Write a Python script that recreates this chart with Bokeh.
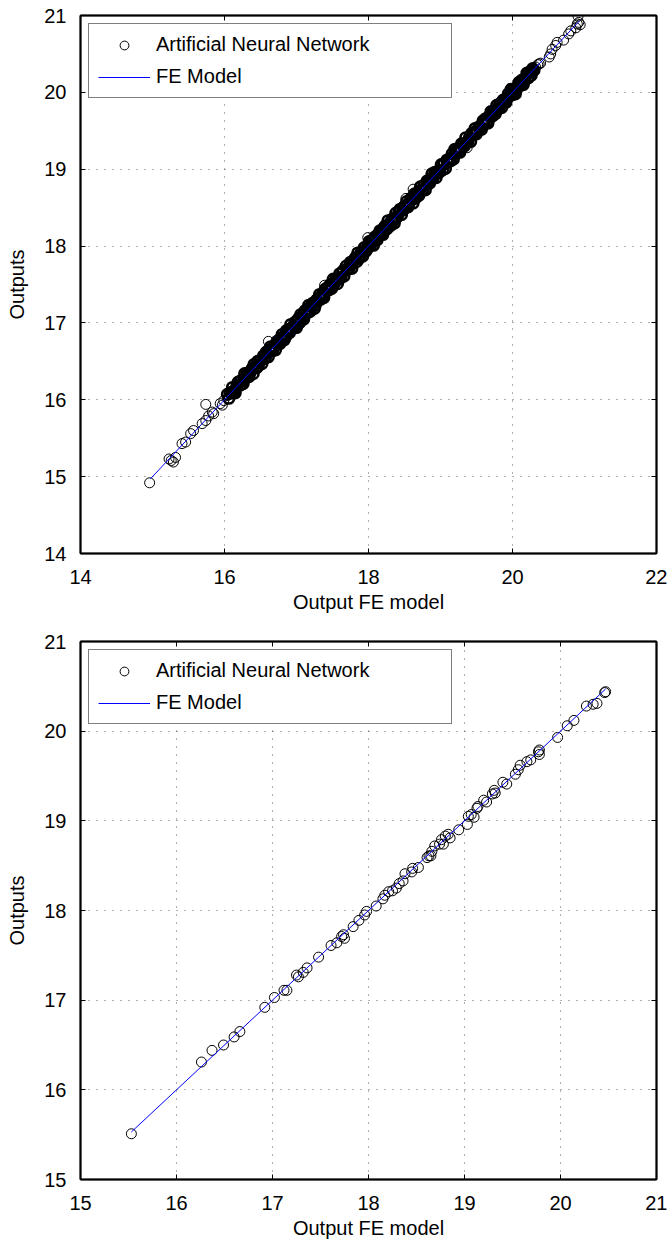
from bokeh.plotting import figure
from bokeh.models import Range1d, FixedTicker, LinearAxis, Legend, LegendItem
from bokeh.layouts import column
from bokeh.embed import file_html
from bokeh.resources import INLINE

# ---------------- data ----------------
top_x_limits = [14, 22]
top_y_limits = [14, 21]
top_x_ticks = [14, 16, 18, 20, 22]
top_y_ticks = [14, 15, 16, 17, 18, 19, 20, 21]

bottom_x_limits = [15, 21]
bottom_y_limits = [15, 21]
bottom_x_ticks = [15, 16, 17, 18, 19, 20, 21]
bottom_y_ticks = [15, 16, 17, 18, 19, 20, 21]

# top panel: FE model line
top_fe_x = [14.97, 20.93]
top_fe_y = [14.97, 20.93]

# top panel: sparse ANN outputs (tails and outliers)
top_ann_sparse_x = [14.96, 15.23, 15.26, 15.29, 15.32, 15.41, 15.46, 15.53, 15.57, 15.69,
                    15.74, 15.74, 15.78, 15.83, 15.85, 15.94, 15.99, 15.97,
                    16.61, 17.39, 17.99, 18.52, 18.62, 19.37,
                    20.32, 20.35, 20.37, 20.39, 20.51, 20.53, 20.55, 20.60, 20.62, 20.71,
                    20.78, 20.81, 20.88, 20.90, 20.92, 20.94, 20.91]
top_ann_sparse_y = [14.92, 15.23, 15.21, 15.19, 15.25, 15.43, 15.45, 15.56, 15.60, 15.69,
                    15.73, 15.94, 15.79, 15.84, 15.82, 15.95, 15.99, 15.93,
                    16.76, 17.49, 18.11, 18.62, 18.74, 19.28,
                    20.33, 20.36, 20.37, 20.38, 20.46, 20.50, 20.56, 20.61, 20.65, 20.68,
                    20.76, 20.80, 20.84, 20.89, 20.91, 20.88, 20.99]

# top panel: dense band of ANN outputs
top_ann_dense_x = [
    16.04, 16.06, 16.09, 16.11, 16.12, 16.15, 16.17, 16.19, 16.22, 16.23, 16.26, 16.28, 16.30,
    16.31, 16.34, 16.36, 16.38, 16.40, 16.41, 16.44, 16.46, 16.47, 16.49, 16.52, 16.54,
    16.56, 16.58, 16.61, 16.63, 16.64, 16.67, 16.69, 16.71, 16.73, 16.75, 16.77, 16.80, 16.82,
    16.83, 16.86, 16.88, 16.90, 16.92, 16.94, 16.96, 16.98, 17.00, 17.02, 17.04, 17.06,
    17.08, 17.10, 17.12, 17.15, 17.17, 17.19, 17.21, 17.23, 17.25, 17.28, 17.29, 17.32, 17.34,
    17.36, 17.38, 17.40, 17.42, 17.45, 17.47, 17.49, 17.51, 17.53, 17.55, 17.57, 17.60,
    17.62, 17.64, 17.66, 17.69, 17.71, 17.73, 17.75, 17.77, 17.79, 17.82, 17.84, 17.85, 17.88,
    17.90, 17.92, 17.94, 17.96, 17.99, 18.01, 18.03, 18.05, 18.07, 18.09, 18.12, 18.14,
    18.16, 18.18, 18.20, 18.23, 18.25, 18.27, 18.29, 18.31, 18.33, 18.36, 18.38, 18.40, 18.42,
    18.44, 18.46, 18.49, 18.51, 18.53, 18.55, 18.57, 18.59, 18.62, 18.64, 18.66, 18.68,
    18.70, 18.72, 18.75, 18.77, 18.79, 18.81, 18.83, 18.85, 18.88, 18.90, 18.92, 18.94, 18.96,
    18.98, 19.01, 19.03, 19.05, 19.07, 19.09, 19.11, 19.14, 19.16, 19.18, 19.20, 19.22,
    19.24, 19.27, 19.29, 19.31, 19.33, 19.35, 19.37, 19.40, 19.42, 19.44, 19.46, 19.48, 19.50,
    19.53, 19.55, 19.57, 19.59, 19.61, 19.63, 19.66, 19.68, 19.70, 19.72, 19.74, 19.76,
    19.78, 19.81, 19.83, 19.85, 19.87, 19.89, 19.91, 19.94, 19.96, 19.98, 20.00, 20.02, 20.04,
    20.07, 20.09, 20.11, 20.13, 20.15, 20.17, 20.20, 20.22, 20.24, 20.26, 20.28, 20.30,
    16.08, 16.14, 16.20, 16.27, 16.33, 16.39, 16.45, 16.51, 16.57, 16.62, 16.68, 16.74, 16.79,
    16.85, 16.91, 16.97, 17.03, 17.09, 17.14, 17.20, 17.26, 17.31, 17.37, 17.43, 17.48,
    17.54, 17.59, 17.65, 17.70, 17.76, 17.81, 17.87, 17.93, 17.98, 18.04, 18.10, 18.15, 18.21,
    18.26, 18.32, 18.37, 18.43, 18.48, 18.54, 18.60, 18.65, 18.71, 18.76, 18.82, 18.87,
    18.93, 18.99, 19.04, 19.10, 19.15, 19.21, 19.26, 19.32, 19.38, 19.43, 19.49, 19.54, 19.60,
    19.65, 19.71, 19.77, 19.82, 19.88, 19.93, 19.99, 20.05, 20.10, 20.16, 20.21, 20.27]
top_ann_dense_y = [
    16.07, 16.02, 16.09, 16.16, 16.10, 16.09, 16.18, 16.23, 16.19, 16.25, 16.21, 16.34, 16.29,
    16.34, 16.30, 16.36, 16.40, 16.34, 16.46, 16.42, 16.50, 16.44, 16.50, 16.47, 16.57,
    16.54, 16.62, 16.56, 16.64, 16.69, 16.64, 16.69, 16.65, 16.76, 16.77, 16.73, 16.85, 16.81,
    16.78, 16.90, 16.89, 16.87, 16.98, 16.92, 16.96, 17.01, 16.94, 17.04, 17.00, 17.11,
    17.09, 17.05, 17.16, 17.13, 17.23, 17.15, 17.21, 17.26, 17.19, 17.30, 17.28, 17.37, 17.31,
    17.37, 17.33, 17.44, 17.42, 17.43, 17.50, 17.45, 17.57, 17.52, 17.57, 17.51, 17.64,
    17.59, 17.66, 17.61, 17.74, 17.71, 17.71, 17.79, 17.71, 17.80, 17.85, 17.80, 17.91, 17.87,
    17.92, 17.87, 17.98, 17.93, 17.99, 18.06, 18.01, 18.06, 18.01, 18.12, 18.08, 18.16,
    18.20, 18.17, 18.15, 18.26, 18.22, 18.33, 18.29, 18.27, 18.35, 18.30, 18.43, 18.38, 18.43,
    18.48, 18.41, 18.51, 18.50, 18.58, 18.51, 18.57, 18.62, 18.56, 18.68, 18.64, 18.69,
    18.66, 18.77, 18.73, 18.79, 18.73, 18.84, 18.83, 18.82, 18.94, 18.89, 18.96, 18.89, 18.97,
    18.96, 19.06, 18.99, 19.07, 19.01, 19.12, 19.11, 19.11, 19.20, 19.13, 19.26, 19.21,
    19.26, 19.22, 19.33, 19.31, 19.30, 19.41, 19.35, 19.41, 19.36, 19.47, 19.45, 19.53, 19.46,
    19.55, 19.55, 19.52, 19.63, 19.59, 19.66, 19.60, 19.69, 19.75, 19.69, 19.76, 19.72,
    19.83, 19.79, 19.84, 19.80, 19.90, 19.89, 19.87, 19.98, 19.95, 20.04, 19.97, 20.04, 19.98,
    20.08, 20.13, 20.09, 20.16, 20.10, 20.17, 20.25, 20.19, 20.26, 20.22, 20.31, 20.29,
    16.09, 16.12, 16.23, 16.26, 16.33, 16.41, 16.42, 16.52, 16.55, 16.65, 16.68, 16.73, 16.81,
    16.82, 16.92, 16.95, 17.06, 17.08, 17.14, 17.22, 17.23, 17.32, 17.35, 17.46, 17.48,
    17.55, 17.57, 17.68, 17.69, 17.76, 17.83, 17.84, 17.94, 17.96, 18.07, 18.10, 18.14, 18.23,
    18.23, 18.33, 18.35, 18.46, 18.47, 18.54, 18.62, 18.62, 18.72, 18.74, 18.85, 18.87,
    18.94, 18.97, 19.07, 19.09, 19.15, 19.23, 19.23, 19.33, 19.36, 19.46, 19.49, 19.53, 19.62,
    19.62, 19.72, 19.75, 19.85, 19.87, 19.93, 20.01, 20.02, 20.11, 20.14, 20.24, 20.27]

# bottom panel
bottom_fe_x = [15.53, 20.47]
bottom_fe_y = [15.53, 20.47]
bottom_ann_x = [15.53, 16.26, 16.37, 16.49, 16.60, 16.66, 16.92, 17.02, 17.12, 17.15,
                17.25, 17.27, 17.32, 17.36, 17.48, 17.61, 17.67, 17.72, 17.74, 17.75,
                17.84, 17.90, 17.96, 17.98, 18.08, 18.15, 18.17, 18.21, 18.25, 18.29,
                18.32, 18.36, 18.38, 18.45, 18.46, 18.52, 18.61, 18.63, 18.65, 18.66,
                18.69, 18.74, 18.76, 18.78, 18.80, 18.83, 18.85, 18.94, 19.03, 19.04,
                19.07, 19.10, 19.13, 19.14, 19.20, 19.23, 19.29, 19.31, 19.32, 19.40,
                19.44, 19.53, 19.56, 19.58, 19.65, 19.69, 19.77, 19.78, 19.78, 19.97,
                20.07, 20.14, 20.27, 20.34, 20.38, 20.46, 20.47]
bottom_ann_y = [15.51, 16.31, 16.44, 16.50, 16.59, 16.65, 16.92, 17.03, 17.11, 17.11,
                17.28, 17.26, 17.31, 17.36, 17.48, 17.61, 17.64, 17.71, 17.73, 17.69,
                17.82, 17.89, 17.95, 17.99, 18.05, 18.13, 18.17, 18.21, 18.22, 18.25,
                18.30, 18.33, 18.41, 18.43, 18.47, 18.48, 18.59, 18.61, 18.61, 18.66,
                18.72, 18.74, 18.79, 18.74, 18.83, 18.85, 18.81, 18.90, 18.96, 19.05,
                19.07, 19.04, 19.14, 19.16, 19.23, 19.21, 19.30, 19.34, 19.31, 19.43,
                19.41, 19.52, 19.57, 19.62, 19.66, 19.68, 19.77, 19.74, 19.79, 19.93,
                20.06, 20.12, 20.28, 20.30, 20.31, 20.43, 20.44]

legend_labels = ["Artificial Neural Network", "FE Model"]
x_label = "Output FE model"
y_label = "Outputs"

FONT = "Liberation Sans"
FSIZE = "20px"


def make_panel(height, border_bottom, xlim, ylim, xticks, yticks):
    p = figure(width=667, height=height,
               x_range=Range1d(*xlim), y_range=Range1d(*ylim),
               output_backend="svg", toolbar_location=None,
               min_border_left=80, min_border_right=11,
               min_border_top=15, min_border_bottom=border_bottom,
               x_axis_label=x_label, y_axis_label=y_label)
    p.background_fill_color = "white"
    p.border_fill_color = "white"
    p.outline_line_color = "black"
    p.outline_line_width = 1.5

    xt = FixedTicker(ticks=xticks, minor_ticks=[])
    yt = FixedTicker(ticks=yticks, minor_ticks=[])
    p.xaxis.ticker = xt
    p.yaxis.ticker = yt
    p.xgrid.ticker = xt
    p.ygrid.ticker = yt

    for ax in [p.xaxis[0], p.yaxis[0]]:
        ax.axis_line_color = "black"
        ax.axis_line_width = 2
        ax.major_tick_in = 5
        ax.major_tick_out = 0
        ax.major_tick_line_color = "black"
        ax.major_tick_line_width = 1
        ax.minor_tick_line_color = None
        ax.major_label_text_font = FONT
        ax.major_label_text_font_size = FSIZE
        ax.major_label_text_color = "black"
        ax.axis_label_text_font = FONT
        ax.axis_label_text_font_size = FSIZE
        ax.axis_label_text_font_style = "normal"
        ax.axis_label_text_color = "black"
    p.xaxis.major_label_standoff = 16
    p.xaxis.axis_label_standoff = 4
    p.yaxis.major_label_standoff = 14
    p.yaxis.axis_label_standoff = 13

    for loc, tk in (("above", xt), ("right", yt)):
        ax = LinearAxis(ticker=tk)
        ax.axis_line_color = "black"
        ax.axis_line_width = 2
        ax.major_tick_in = 5
        ax.major_tick_out = 0
        ax.major_tick_line_color = "black"
        ax.minor_tick_line_color = None
        ax.major_label_text_color = None
        ax.major_label_standoff = 0
        ax.major_label_text_font_size = "1px"
        p.add_layout(ax, loc)

    p.grid.grid_line_color = "#606060"
    p.grid.grid_line_dash = "1 7"
    p.grid.grid_line_width = 1
    return p


def add_legend(p, r_scatter, r_line):
    leg = Legend(items=[LegendItem(label=legend_labels[0], renderers=[r_scatter]),
                        LegendItem(label=legend_labels[1], renderers=[r_line])],
                 location="top_left", margin=8, padding=9, spacing=9,
                 glyph_width=52, glyph_height=22, label_height=22, label_width=286,
                 label_standoff=6, label_text_font=FONT, label_text_font_size=FSIZE,
                 label_text_color="black",
                 border_line_color="black", border_line_width=1.2,
                 background_fill_color="white", background_fill_alpha=1.0)
    p.add_layout(leg)


# ---------- top panel ----------
p1 = make_panel(626, 73, top_x_limits, top_y_limits, top_x_ticks, top_y_ticks)
p1.scatter(top_ann_dense_x, top_ann_dense_y, marker="circle", size=10.5,
           fill_color=None, line_color="black", line_width=2.6)
r1 = p1.scatter(top_ann_sparse_x, top_ann_sparse_y, marker="circle", size=10,
                fill_color=None, line_color="black", line_width=1)
l1 = p1.line(top_fe_x, top_fe_y, line_color="#0000ff", line_width=1)
add_legend(p1, r1, l1)

# ---------- bottom panel ----------
p2 = make_panel(615, 62, bottom_x_limits, bottom_y_limits, bottom_x_ticks, bottom_y_ticks)
r2 = p2.scatter(bottom_ann_x, bottom_ann_y, marker="circle", size=10,
                fill_color=None, line_color="black", line_width=1)
l2 = p2.line(bottom_fe_x, bottom_fe_y, line_color="#0000ff", line_width=1)
add_legend(p2, r2, l2)

layout = column(p1, p2, spacing=0)
open("out.html", "w").write(file_html(layout, INLINE))
